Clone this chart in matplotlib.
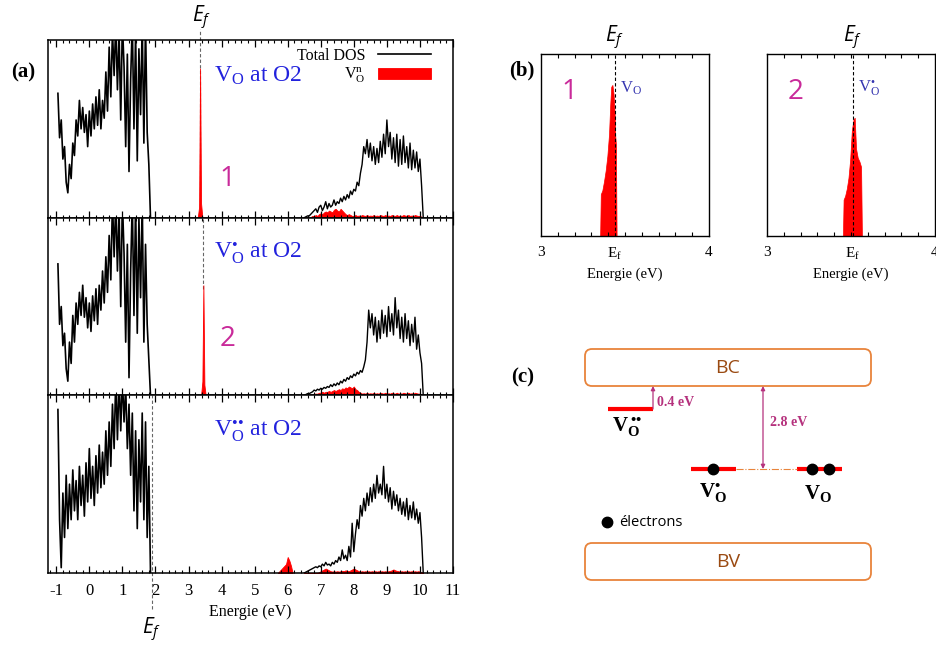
import numpy as np
import matplotlib
matplotlib.use('Agg')
import matplotlib.pyplot as plt
from matplotlib.patches import FancyBboxPatch
from matplotlib.ticker import MultipleLocator

plt.rcParams['font.family'] = 'serif'
plt.rcParams['font.serif'] = ['Liberation Serif', 'DejaVu Serif']
plt.rcParams['mathtext.fontset'] = 'custom'
plt.rcParams['mathtext.rm'] = 'Liberation Serif'
plt.rcParams['mathtext.it'] = 'Liberation Serif:italic'
plt.rcParams['mathtext.bf'] = 'Liberation Serif:bold'
plt.rcParams['mathtext.sf'] = 'Open Sans:italic'
plt.rcParams['axes.unicode_minus'] = False

# ==============================================================================
# DATI
# ==============================================================================

# griglie in energia (eV)
E_vb = np.round(np.arange(-0.95, 1.851, 0.05), 2)   # banda di valenza
E_cb = np.round(np.arange(6.50, 10.101, 0.05), 2)   # banda di conduzione

# pannello 1 : V_O at O2
dos1_vb = [0.70, 0.45, 0.55, 0.33, 0.40, 0.20, 0.14, 0.30, 0.22, 0.42,
           0.35, 0.55, 0.46, 0.66, 0.50, 0.62, 0.48, 0.58, 0.40, 0.60,
           0.46, 0.64, 0.50, 0.68, 0.52, 0.72, 0.50, 0.66, 0.56, 0.82,
           0.60, 0.96, 0.68, 1.05, 0.80, 1.10, 0.72, 1.05, 0.55, 1.10,
           0.85, 0.40, 0.92, 0.26, 0.78, 1.10, 0.50, 1.05, 0.32, 0.95,
           0.58, 1.10, 0.42, 1.10, 0.48, 0.30, 0.00]
dos1_cb = [0.00, 0.005, 0.01, 0.01, 0.02, 0.03, 0.04, 0.05, 0.03, 0.06,
           0.07, 0.04, 0.06, 0.09, 0.05, 0.08, 0.06, 0.07, 0.10, 0.07,
           0.09, 0.08, 0.11, 0.09, 0.12, 0.10, 0.13, 0.11, 0.15, 0.13,
           0.16, 0.15, 0.20, 0.18, 0.25, 0.30, 0.40, 0.36, 0.44, 0.34,
           0.42, 0.32, 0.40, 0.30, 0.39, 0.31, 0.43, 0.34, 0.47, 0.36,
           0.55, 0.40, 0.48, 0.33, 0.45, 0.31, 0.47, 0.29, 0.44, 0.30,
           0.46, 0.31, 0.40, 0.28, 0.42, 0.27, 0.38, 0.28, 0.37, 0.26,
           0.33, 0.18, 0.00]
pdos1_cb = [0, 0, 0, 0, 0.005, 0.01, 0.01, 0.015, 0.01, 0.02,
            0.025, 0.02, 0.03, 0.035, 0.03, 0.04, 0.035, 0.03, 0.045, 0.05,
            0.04, 0.035, 0.05, 0.04, 0.03, 0.02, 0.015, 0.02, 0.015, 0.01,
            0.01, 0.015, 0.01, 0.012, 0.01, 0.015, 0.012, 0.01, 0.015, 0.01,
            0.012, 0.01, 0.015, 0.01, 0.012, 0.01, 0.015, 0.012, 0.01, 0.015,
            0.01, 0.012, 0.01, 0.015, 0.012, 0.01, 0.015, 0.01, 0.012, 0.01,
            0.015, 0.012, 0.01, 0.015, 0.01, 0.012, 0.01, 0.015, 0.012, 0.01,
            0.01, 0.005, 0]
E_gap1 = [3.28, 3.32, 3.35, 3.38, 3.42]
pdos1_gap = [0, 0.06, 0.84, 0.08, 0]
Ef1 = 3.36

# pannello 2 : V_O* at O2
dos2_vb = [0.74, 0.40, 0.50, 0.28, 0.35, 0.15, 0.08, 0.30, 0.18, 0.45,
           0.30, 0.52, 0.40, 0.58, 0.45, 0.62, 0.44, 0.55, 0.38, 0.52,
           0.36, 0.56, 0.42, 0.60, 0.40, 0.62, 0.48, 0.70, 0.52, 0.78,
           0.58, 0.90, 0.65, 1.10, 0.78, 1.10, 0.70, 1.05, 0.50, 1.10,
           0.80, 0.30, 0.85, 0.10, 0.70, 1.10, 0.45, 1.10, 0.35, 1.00,
           0.55, 1.10, 0.30, 0.85, 0.40, 0.20, 0.00]
dos2_cb = [0.00, 0.005, 0.01, 0.01, 0.015, 0.02, 0.03, 0.025, 0.035, 0.03,
           0.04, 0.035, 0.045, 0.04, 0.05, 0.045, 0.06, 0.05, 0.065, 0.055,
           0.07, 0.06, 0.08, 0.07, 0.09, 0.08, 0.10, 0.09, 0.11, 0.10,
           0.12, 0.11, 0.13, 0.12, 0.14, 0.13, 0.16, 0.20, 0.30, 0.48,
           0.38, 0.46, 0.34, 0.44, 0.30, 0.42, 0.32, 0.48, 0.35, 0.45,
           0.33, 0.50, 0.36, 0.46, 0.34, 0.55, 0.38, 0.48, 0.32, 0.44,
           0.30, 0.46, 0.32, 0.42, 0.28, 0.40, 0.30, 0.44, 0.26, 0.34,
           0.24, 0.18, 0.00]
pdos2_cb = [0, 0, 0, 0, 0.005, 0.005, 0.01, 0.01, 0.01, 0.015,
            0.015, 0.02, 0.015, 0.02, 0.02, 0.025, 0.02, 0.025, 0.03, 0.025,
            0.03, 0.035, 0.03, 0.04, 0.035, 0.045, 0.04, 0.05, 0.045, 0.04,
            0.05, 0.035, 0.03, 0.02, 0.015, 0.01, 0.012, 0.01, 0.015, 0.01,
            0.012, 0.01, 0.015, 0.01, 0.012, 0.01, 0.015, 0.012, 0.01, 0.015,
            0.01, 0.012, 0.01, 0.015, 0.012, 0.01, 0.015, 0.01, 0.012, 0.01,
            0.015, 0.012, 0.01, 0.015, 0.01, 0.012, 0.01, 0.015, 0.012, 0.01,
            0.01, 0.005, 0]
E_gap2 = [3.38, 3.42, 3.45, 3.48, 3.52]
pdos2_gap = [0, 0.08, 0.62, 0.06, 0]
Ef2 = 3.45

# pannello 3 : V_O** at O2
dos3_vb = [0.92, 0.30, 0.03, 0.45, 0.20, 0.55, 0.25, 0.50, 0.30, 0.58,
           0.35, 0.52, 0.30, 0.60, 0.38, 0.55, 0.32, 0.62, 0.40, 0.70,
           0.42, 0.60, 0.38, 0.66, 0.45, 0.72, 0.48, 0.68, 0.50, 0.80,
           0.55, 0.85, 0.60, 0.95, 0.70, 1.10, 0.75, 1.10, 0.80, 1.10,
           0.85, 1.05, 0.70, 0.95, 0.55, 0.90, 0.35, 0.80, 0.25, 0.75,
           0.40, 0.90, 0.30, 0.85, 0.20, 0.60, 0.00]
dos3_cb = [0.00, 0.005, 0.01, 0.015, 0.02, 0.025, 0.03, 0.035, 0.03, 0.04,
           0.035, 0.05, 0.04, 0.06, 0.045, 0.05, 0.04, 0.06, 0.05, 0.07,
           0.06, 0.09, 0.07, 0.13, 0.08, 0.10, 0.07, 0.15, 0.09, 0.28,
           0.12, 0.22, 0.30, 0.25, 0.38, 0.32, 0.42, 0.35, 0.45, 0.38,
           0.48, 0.40, 0.50, 0.42, 0.55, 0.45, 0.50, 0.44, 0.60, 0.42,
           0.50, 0.40, 0.48, 0.36, 0.46, 0.38, 0.44, 0.35, 0.42, 0.33,
           0.40, 0.32, 0.42, 0.30, 0.38, 0.31, 0.40, 0.30, 0.36, 0.28,
           0.34, 0.20, 0.00]
pdos3_cb = [0, 0, 0, 0, 0, 0, 0, 0, 0, 0.005,
            0.01, 0.015, 0.02, 0.025, 0.02, 0.015, 0.01, 0.008, 0.01, 0.008,
            0.01, 0.008, 0.01, 0.012, 0.01, 0.015, 0.012, 0.01, 0.015, 0.02,
            0.025, 0.02, 0.015, 0.01, 0.008, 0.01, 0.008, 0.01, 0.008, 0.01,
            0.008, 0.01, 0.008, 0.01, 0.008, 0.01, 0.008, 0.01, 0.008, 0.01,
            0.008, 0.01, 0.012, 0.015, 0.02, 0.015, 0.012, 0.01, 0.008, 0.01,
            0.008, 0.01, 0.008, 0.01, 0.008, 0.01, 0.008, 0.01, 0.008, 0.01,
            0.008, 0.005, 0]
E_gap3 = [5.70, 5.75, 5.80, 5.85, 5.90, 5.95, 6.00, 6.05, 6.10, 6.15]
pdos3_gap = [0, 0.01, 0.02, 0.03, 0.04, 0.05, 0.09, 0.07, 0.04, 0]
Ef3 = 1.9

# pannello (b) : zoom sullo stato di gap
E_b1 = [3.352, 3.356, 3.365, 3.375, 3.385, 3.395, 3.405, 3.412, 3.418,
        3.425, 3.432, 3.438, 3.442, 3.446, 3.45]
pdos_b1 = [0, 0.23, 0.25, 0.30, 0.36, 0.44, 0.56, 0.72, 0.82,
           0.83, 0.78, 0.68, 0.55, 0.50, 0]
Ef_b1 = 3.44
E_b2 = [3.452, 3.456, 3.465, 3.475, 3.485, 3.495, 3.505, 3.515, 3.522,
        3.53, 3.54, 3.55, 3.56, 3.565]
pdos_b2 = [0, 0.20, 0.22, 0.26, 0.32, 0.42, 0.58, 0.64, 0.65,
           0.48, 0.43, 0.41, 0.38, 0]
Ef_b2 = 3.51

panels = [
    (dos1_vb, dos1_cb, pdos1_cb, E_gap1, pdos1_gap, Ef1,
     r'V$_\mathrm{O}$ at O2', '1'),
    (dos2_vb, dos2_cb, pdos2_cb, E_gap2, pdos2_gap, Ef2,
     r'V$_\mathrm{O}^{•}$ at O2', '2'),
    (dos3_vb, dos3_cb, pdos3_cb, E_gap3, pdos3_gap, Ef3,
     r'V$_\mathrm{O}^{••}$ at O2', None),
]

BLUE = '#2222dd'
MAGENTA = '#c92a9a'
W, H = 937, 646


def px_axes(fig, x0, y0, x1, y1):
    """Crea un asse a partire da coordinate in pixel (origine in alto a sinistra)."""
    return fig.add_axes([x0 / W, 1 - y1 / H, (x1 - x0) / W, (y1 - y0) / H])


fig = plt.figure(figsize=(W / 100, H / 100), dpi=100)

# ==============================================================================
# PANNELLO (a)
# ==============================================================================
tops = [40, 217.7, 395.3]
hgt = 177.7
axes_a = []
for i, (vb, cb, pcb, Eg, pg, Ef, lab, num) in enumerate(panels):
    ax = px_axes(fig, 48, tops[i], 453, tops[i] + hgt)
    axes_a.append(ax)
    l_tot, = ax.plot(E_vb, vb, color='k', lw=1.2)
    ax.plot(E_cb, cb, color='k', lw=1.0)
    f_pdos = ax.fill_between(E_cb, pcb, color='red', lw=0.6, edgecolor='red')
    ax.fill_between(Eg, pg, color='red', lw=0.6, edgecolor='red')

    ax.set_xlim(-1.25, 11)
    ax.set_ylim(0, 1)
    ax.set_yticks([])
    ax.xaxis.set_major_locator(MultipleLocator(1))
    ax.xaxis.set_minor_locator(MultipleLocator(0.2))
    ax.tick_params(axis='x', which='both', direction='in', top=True, bottom=True,
                   labelbottom=(i == 2), labelsize=12, pad=7)
    ax.tick_params(axis='x', which='major', length=5, width=0.9)
    ax.tick_params(axis='x', which='minor', length=2.5, width=0.8)
    for s in ax.spines.values():
        s.set_linewidth(1.1)

    if i == 0:
        ax.axvline(Ef, ymin=0, ymax=1.06, color='#666666', ls='--', lw=0.8,
                   dashes=(3, 2), clip_on=False, zorder=0)
    elif i == 1:
        ax.axvline(Ef, ymin=0.6, ymax=1, color='#666666', ls='--', lw=0.8,
                   dashes=(3, 2), zorder=0)
    else:
        ax.axvline(Ef, ymin=-0.2, ymax=1, color='#666666', ls='--', lw=0.8,
                   dashes=(3, 2), clip_on=False, zorder=0)

    ax.text(3.78, 0.80, lab, color=BLUE, fontsize=17, va='center', ha='left')
    if num:
        ax.text(4.18, [0.22, 0.32][i], num, color=MAGENTA, fontsize=20,
                family='Open Sans', ha='center', va='center')

    if i == 0:
        ax.legend([l_tot, f_pdos], ['Total DOS', r'V$_\mathrm{O}^\mathrm{n}$'],
                  loc='upper right', bbox_to_anchor=(0.946, 0.955),
                  frameon=False, markerfirst=False, fontsize=11.5,
                  handlelength=3.3, handleheight=0.7, handletextpad=0.8,
                  labelspacing=0.1, borderpad=0, borderaxespad=0)

axes_a[2].set_xlabel('Energie (eV)', fontsize=11.5, labelpad=4)

fig.text(202 / W, 1 - 18 / H, r'$\mathsf{E_f}$', fontsize=15, ha='center', va='center')
fig.text(152 / W, 1 - 630 / H, r'$\mathsf{E_f}$', fontsize=15, ha='center', va='center')
fig.text(23 / W, 1 - 72 / H, '(a)', fontsize=15, fontweight='bold', ha='center', va='center')

# ==============================================================================
# PANNELLO (b)
# ==============================================================================
b_boxes = [(541, 709), (767, 935)]
b_data = [(E_b1, pdos_b1, Ef_b1, '1', r'V$_\mathrm{O}$'),
          (E_b2, pdos_b2, Ef_b2, '2', r'V$_\mathrm{O}^{•}$')]
for (x0, x1), (Eb, pb, Ef, num, lab) in zip(b_boxes, b_data):
    ax = px_axes(fig, x0, 54, x1, 236)
    ax.fill_between(Eb, pb, color='red', lw=0.5, edgecolor='red')
    ax.axvline(Ef, color='k', ls='--', lw=0.8, dashes=(3, 2))
    ax.set_xlim(3, 4)
    ax.set_ylim(0, 1)
    ax.set_yticks([])
    ax.set_xticks([3, Ef, 4])
    ax.set_xticklabels(['3', r'E$_\mathrm{f}$', '4'])
    ax.xaxis.set_minor_locator(MultipleLocator(0.1))
    ax.tick_params(axis='x', which='both', direction='in', top=True, bottom=True,
                   labelsize=11, pad=7)
    ax.tick_params(axis='x', which='major', length=0)
    ax.tick_params(axis='x', which='minor', length=3, width=0.8)
    for s in ax.spines.values():
        s.set_linewidth(1.0)
    ax.set_xlabel('Energie (eV)', fontsize=10.5, labelpad=4)
    ax.text(3.17, 0.79, num, color=MAGENTA, fontsize=20, family='Open Sans',
            ha='center', va='center')
    ax.text(Ef + 0.03, 0.81, lab, color='#3535b0', fontsize=12, ha='left', va='center')
    fig.text((x0 + (Ef - 3) * (x1 - x0)) / W, 1 - 38 / H, r'$\mathsf{E_f}$',
             fontsize=15, ha='center', va='center')

fig.text(522 / W, 1 - 70 / H, '(b)', fontsize=15, fontweight='bold', ha='center', va='center')

# ==============================================================================
# PANNELLO (c) : schema dei livelli
# ==============================================================================
ORANGE = '#e8843c'
BROWN = '#9a4a12'
PURPLE = '#b5317d'

axc = px_axes(fig, 500, 320, 937, 646)
axc.set_xlim(500, 937)
axc.set_ylim(646, 320)
axc.axis('off')

for name, y0 in [('BC', 349), ('BV', 543)]:
    axc.add_patch(FancyBboxPatch((585, y0), 286, 37, boxstyle='round,pad=0,rounding_size=7',
                                 fc='white', ec=ORANGE, lw=1.3))
    axc.text(728, y0 + 19, name, color=BROWN, fontsize=14, family='Open Sans',
             ha='center', va='center')

# livelli dei difetti
axc.plot([608, 653], [409, 409], color='red', lw=3, solid_capstyle='butt')
axc.plot([691, 736], [469, 469], color='red', lw=3, solid_capstyle='butt')
axc.plot([797, 842], [469, 469], color='red', lw=3, solid_capstyle='butt')
axc.plot([736, 797], [469, 469], color=ORANGE, lw=0.8, ls='-.')
axc.plot([713, 812, 829], [469, 469, 469], 'o', color='k', ms=7.5)

axc.annotate('', xy=(653, 386), xytext=(653, 409),
             arrowprops=dict(arrowstyle='-|>', color=PURPLE, lw=0.9,
                             mutation_scale=6, shrinkA=0, shrinkB=0))
axc.annotate('', xy=(763, 386), xytext=(763, 469),
             arrowprops=dict(arrowstyle='<|-|>', color=PURPLE, lw=0.9,
                             mutation_scale=6, shrinkA=0, shrinkB=0))
axc.text(657, 402, '0.4 eV', color=PURPLE, fontsize=10, fontweight='bold',
         ha='left', va='center')
axc.text(770, 423, '2.8 eV', color=PURPLE, fontsize=10, fontweight='bold',
         ha='left', va='center')

axc.text(612, 427, r'V$_{\mathbf{O}}^{\ \mathbf{••}}$', fontsize=15, fontweight='bold',
         ha='left', va='center')
axc.text(713, 493, r'V$_{\mathbf{O}}^{\mathbf{•}}$', fontsize=15, fontweight='bold',
         ha='center', va='center')
axc.text(818, 493, r'V$_{\mathbf{O}}$', fontsize=15, fontweight='bold',
         ha='center', va='center')

axc.plot([607], [522], 'o', color='k', ms=7.5)
axc.text(619, 522, 'électrons', fontsize=10.5, family='Open Sans', ha='left', va='center')

fig.text(523 / W, 1 - 377 / H, '(c)', fontsize=15, fontweight='bold', ha='center', va='center')

fig.savefig('out.png', dpi=100)
